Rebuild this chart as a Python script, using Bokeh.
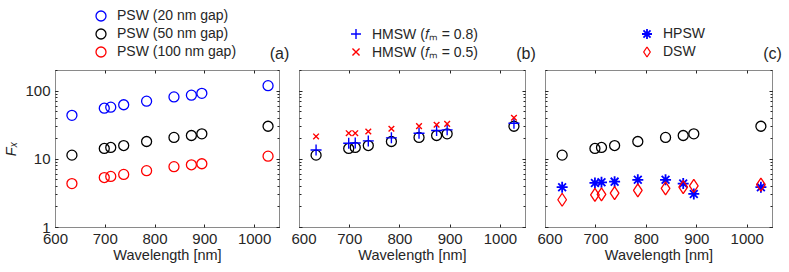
from bokeh.plotting import figure
from bokeh.models import (Legend, LegendItem, LogAxis, LinearAxis, Label, Range1d,
                          FixedTicker, BasicTickFormatter, CustomJSTickFormatter, LogTicker)
from bokeh.layouts import row, column
from bokeh.embed import file_html
from bokeh.resources import INLINE

# ---- data ----
wavelength = [633, 698, 711, 737, 783, 838, 873, 894, 1027]
psw_20 = [44, 56, 58, 63, 71, 82, 87, 92.5, 120]
psw_50 = [11.5, 14.4, 14.9, 15.9, 18.2, 20.9, 22.3, 23.6, 30.5]
psw_100 = [4.4, 5.4, 5.6, 6.0, 6.8, 7.8, 8.3, 8.6, 11.1]
hmsw_08 = [13.7, 17.2, 17.3, 18.6, 20.6, 24.1, 26.4, 27.0, 33.8]
hmsw_05 = [21.6, 24.1, 24.1, 25.5, 28.0, 30.6, 32.1, 33.1, 40.6]
hpsw = [3.9, 4.5, 4.6, 4.7, 5.0, 5.0, 4.4, 3.1, 3.9]
dsw = [2.55, 3.0, 3.05, 3.2, 3.5, 3.75, 3.9, 4.06, 4.25]
x_ticks = [600, 700, 800, 900, 1000]
y_ticks = [1, 10, 100]

SERIES = {
    "psw20": psw_20, "psw50": psw_50, "psw100": psw_100,
    "hm08": hmsw_08, "hm05": hmsw_05, "hpsw": hpsw, "dsw": dsw,
}

FONT = "Liberation Sans"
TXT = "#262626"
BOX = "#8a8a8a"
TOP_H = 62
PLOT_H = 210
ROW_Y = [34.5, 16.5, -1.5]   # legend rows (screen px from the top strip's bottom)

CIRC = dict(marker="circle", size=10, fill_color=None, line_width=1.3)
STY = {
    "psw20": dict(CIRC, line_color="#0000ff"),
    "psw50": dict(CIRC, line_color="black"),
    "psw100": dict(CIRC, line_color="#ff0000"),
    "hm08": dict(marker="cross", size=11, line_color="#0000ff", line_width=1.4),
    "hm05": dict(marker="x", size=8, line_color="#ff0000", line_width=1.4),
    "hpsw": dict(marker="asterisk", size=11, line_color="#0000ff", line_width=1.8),
    "dsw": dict(marker="diamond", size=13, fill_color=None, line_color="#ff0000", line_width=1.3),
}


def style_axis(ax, labels=True):
    ax.axis_line_color = BOX
    ax.major_tick_line_color = TXT
    ax.minor_tick_line_color = TXT
    ax.major_tick_in = 3
    ax.major_tick_out = 0
    ax.minor_tick_in = 2
    ax.minor_tick_out = 0
    ax.major_label_text_font = FONT
    ax.major_label_text_color = TXT
    ax.major_label_text_font_size = "15px"
    if not labels:
        ax.formatter = CustomJSTickFormatter(code="return ''")
        ax.major_label_standoff = 0


def make_panel(width, left, right, ylabels):
    p = figure(width=width, height=PLOT_H, y_axis_type="log",
               x_range=Range1d(600, 1050), y_range=Range1d(1, 200),
               output_backend="svg", toolbar_location=None,
               min_border_left=left, min_border_right=right,
               min_border_top=8, min_border_bottom=PLOT_H - 8 - 157)
    p.grid.visible = False
    p.outline_line_color = BOX
    xa = p.xaxis[0]
    xa.ticker = FixedTicker(ticks=x_ticks)
    style_axis(xa)
    xa.minor_tick_line_color = None
    xa.major_label_standoff = 6
    xa.axis_label = "Wavelength [nm]"
    xa.axis_label_text_font = FONT
    xa.axis_label_text_font_style = "normal"
    xa.axis_label_text_font_size = "14.5px"
    xa.axis_label_text_color = TXT
    xa.axis_label_standoff = 0
    ya = p.yaxis[0]
    ya.ticker = LogTicker(num_minor_ticks=10, desired_num_ticks=3)
    style_axis(ya, ylabels)
    if ylabels:
        ya.formatter = BasicTickFormatter()
        ya.major_label_standoff = 5
        ya.axis_label = "Fₓ"
        ya.axis_label_text_font = FONT
        ya.axis_label_text_font_style = "italic"
        ya.axis_label_text_font_size = "14.5px"
        ya.axis_label_text_color = TXT
        ya.axis_label_standoff = 3
    top = LinearAxis(ticker=FixedTicker(ticks=x_ticks))
    style_axis(top, False)
    top.minor_tick_line_color = None
    p.add_layout(top, "above")
    rt = LogAxis(ticker=LogTicker(num_minor_ticks=10, desired_num_ticks=3))
    style_axis(rt, False)
    p.add_layout(rt, "right")
    return p


def legend_fig(width, entries, x, tag, tag_x):
    # the data lie outside this figure's ranges; only the legend entries show
    f = figure(width=width, height=TOP_H, x_range=Range1d(0, 1), y_range=Range1d(0, 1),
               output_backend="svg", toolbar_location=None, min_border=0)
    f.axis.visible = False
    f.grid.visible = False
    f.outline_line_color = None
    rows = ROW_Y[3 - len(entries):]
    for (label, key), ry in zip(entries, rows):
        r = f.scatter(wavelength, SERIES[key], **STY[key])
        lg = Legend(items=[LegendItem(label=label, renderers=[r])], location=(x, ry),
                    padding=0, margin=0, spacing=0,
                    glyph_width=25, glyph_height=25, label_height=25,
                    label_standoff=4, border_line_color=None,
                    background_fill_alpha=0, label_text_font=FONT,
                    label_text_font_size="14px", label_text_color=TXT)
        f.add_layout(lg, "center")
    f.add_layout(Label(x=tag_x, y=9, x_units="screen", y_units="screen", text=tag,
                       text_align="center", text_baseline="middle",
                       text_font=FONT, text_font_size="16px", text_color=TXT))
    return f


W1, W2, W3 = 291, 246, 252
T1, T2, T3 = 300, 246, 243

# ---- (a) ----
pa = make_panel(W1, 54, 12, True)
for k in ("psw20", "psw50", "psw100"):
    pa.scatter(wavelength, SERIES[k], **STY[k])
la = legend_fig(T1, [("PSW (20 nm gap)", "psw20"), ("PSW (50 nm gap)", "psw50"),
                     ("PSW (100 nm gap)", "psw100")], 88, "(a)", 279)

# ---- (b) ----
pb = make_panel(W2, 8, 12, False)
for k in ("psw50", "hm08", "hm05"):
    pb.scatter(wavelength, SERIES[k], **STY[k])
lb = legend_fig(T2, [("HMSW (𝑓ₘ = 0.8)", "hm08"), ("HMSW (𝑓ₘ = 0.5)", "hm05")],
                43, "(b)", 225.5)

# ---- (c) ----
pc = make_panel(W3, 8, 17, False)
for k in ("psw50", "hpsw", "dsw"):
    pc.scatter(wavelength, SERIES[k], **STY[k])
lc = legend_fig(T3, [("HPSW", "hpsw"), ("DSW", "dsw")], 88, "(c)", 226)

layout = column(row(la, lb, lc), row(pa, pb, pc))
open("out.html", "w").write(file_html(layout, INLINE))
